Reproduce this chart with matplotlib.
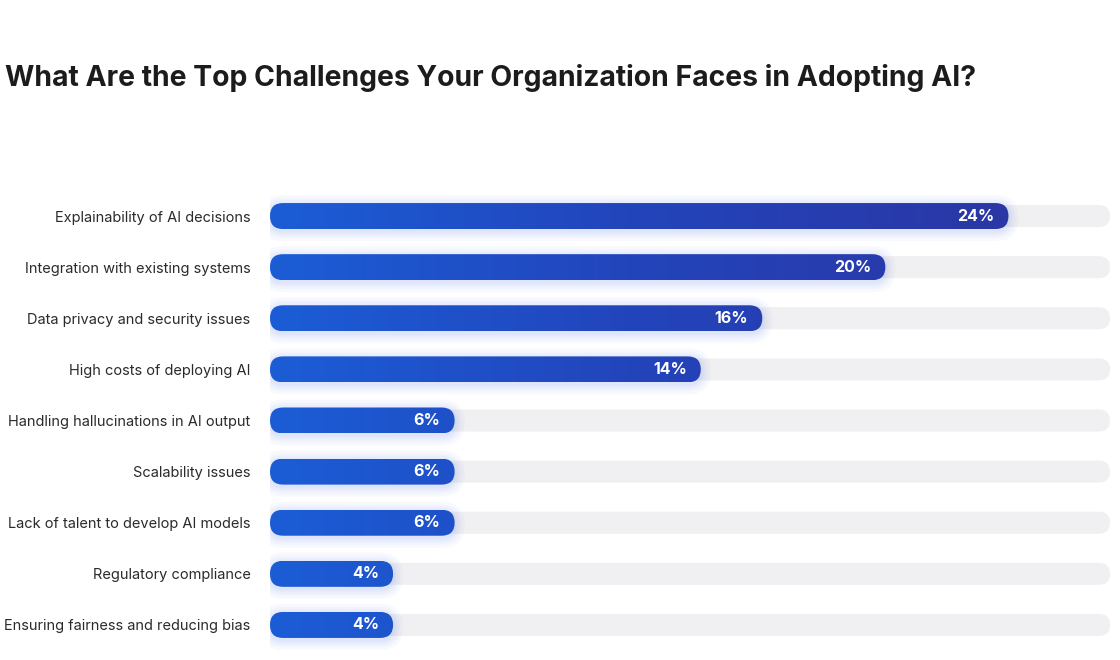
import matplotlib
matplotlib.use('Agg')
import matplotlib.pyplot as plt
import numpy as np
from matplotlib.patches import FancyBboxPatch
from matplotlib.colors import LinearSegmentedColormap

title = "What Are the Top Challenges Your Organization Faces in Adopting AI?"
categories = [
    "Explainability of AI decisions",
    "Integration with existing systems",
    "Data privacy and security issues",
    "High costs of deploying AI",
    "Handling hallucinations in AI output",
    "Scalability issues",
    "Lack of talent to develop AI models",
    "Regulatory compliance",
    "Ensuring fairness and reducing bias",
]
values = [24, 20, 16, 14, 6, 6, 6, 4, 4]
value_labels = [f"{v}%" for v in values]

plt.rcParams['font.family'] = ['Inter', 'DejaVu Sans']

fig = plt.figure(figsize=(11.2, 6.6), dpi=100)
fig.patch.set_facecolor('white')
ax = fig.add_axes([270 / 1120, 1 - 650.5 / 660, 840 / 1120, 460 / 660])
xmax = 27.3
n = len(values)
ax.set_xlim(0, xmax)
ax.set_ylim(n - 0.5, -0.5)
for s in ax.spines.values():
    s.set_visible(False)
ax.set_xticks([])
ax.set_facecolor('none')

p0 = ax.transData.transform((0, 0))
p1 = ax.transData.transform((1, 1))
px_x = abs(p1[0] - p0[0])
px_y = abs(p1[1] - p0[1])
ma = px_x / px_y


def pill(x0, w, yc, hpx, ext=0, **kw):
    hp = hpx + 2 * ext
    h = hp / px_y
    ex = ext / px_x
    r = (hp / 2) / px_x
    p = FancyBboxPatch((x0 - ex, yc - h / 2), w + 2 * ex, h,
                       boxstyle=f"round,pad=0,rounding_size={r}",
                       mutation_aspect=ma, linewidth=0, **kw)
    ax.add_patch(p)
    return p


cmap = LinearSegmentedColormap.from_list('g', ['#1b5dd6', '#2344bb', '#2b37a5'])
vmax = max(values)

for i, v in enumerate(values):
    pill(0, xmax, i, 22, facecolor='#f0eff1', zorder=1)
    for e in [10, 7, 5, 3, 1.5]:
        pill(0, v, i + 2 / px_y, 26, ext=e, facecolor='#5a7fe6', alpha=0.04, zorder=2)
    bar = pill(0, v, i, 26, facecolor='none', zorder=3)
    h = 26 / px_y
    grad = np.linspace(0, v / vmax, 256).reshape(1, -1)
    im = ax.imshow(grad, cmap=cmap, vmin=0, vmax=1, aspect='auto',
                   extent=(0, v, i + h / 2, i - h / 2), zorder=3, interpolation='bilinear')
    im.set_clip_path(bar)
    ax.annotate(value_labels[i], xy=(v, i), xytext=(-14, 0), textcoords='offset pixels',
                ha='right', va='center', color='white', fontweight='bold', fontsize=11.5, zorder=5)

ax.set_xlim(0, xmax)
ax.set_ylim(n - 0.5, -0.5)
ax.set_yticks(range(n))
ax.set_yticklabels(categories, fontsize=10.5, color='#2b2b2b')
ax.tick_params(axis='y', length=0, pad=14)

fig.text(5 / 1120, 1 - 86 / 660, title, fontsize=20.4, fontweight='bold', color='#1c1c1c',
         ha='left', va='baseline')

fig.savefig('out.png', dpi=100, facecolor='white')
